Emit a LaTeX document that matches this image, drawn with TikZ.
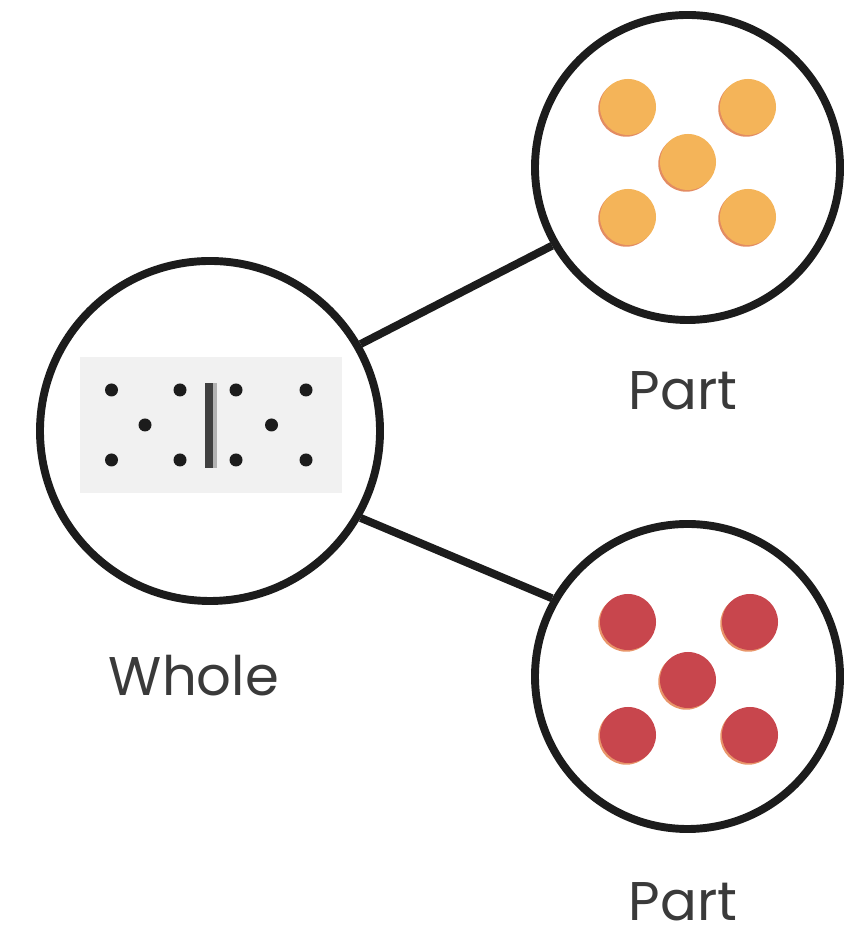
\documentclass[tikz,border=0pt]{standalone}
\usepackage{fontspec}
\setsansfont{Poppins}
\usepackage{xcolor}
\usepackage{tikz}
\definecolor{ringblack}{HTML}{1C1C1C}
\definecolor{labelgray}{HTML}{3A3A3A}
\definecolor{dotorange}{HTML}{F4B459}
\definecolor{shadeorange}{HTML}{E38C62}
\definecolor{dotred}{HTML}{C8464D}
\definecolor{shadered}{HTML}{E8956A}
\definecolor{tilegray}{HTML}{F1F1F1}
\begin{document}
\begin{tikzpicture}[
        ring/.style={circle,draw=ringblack,line width=4.5pt,minimum size=#1},
        link/.style={draw=ringblack,line width=4.5pt},
        lab/.style={font=\sffamily\fontsize{31}{36}\selectfont,text=labelgray,anchor=base,inner sep=0pt},
        pip/.style={fill=ringblack}
    ]
        \useasboundingbox (0,0) rectangle (16.98,18.6);
        % the three circles
        \node[ring=6.8cm] (whole) at (4.2,9.98) {};
        \node[ring=6.1cm] (top) at (13.75,15.25) {};
        \node[ring=6.1cm] (bottom) at (13.75,5.07) {};
        \draw[link] (whole.30) -- (top.210);
        \draw[link] (whole.-30) -- (bottom.150);
        % domino in the whole
        \fill[tilegray] (1.6,8.74) rectangle (6.84,11.46);
        \foreach \x/\y in {2.23/10.8, 3.6/10.8, 2.9/10.1, 2.23/9.4, 3.6/9.4,
                           4.72/10.8, 6.12/10.8, 5.43/10.1, 4.72/9.4, 6.12/9.4}
            \fill[pip] (\x,\y) circle (0.13);
        \fill[black!75] (4.1,9.24) rectangle (4.26,10.94);
        \fill[black!30] (4.26,9.24) rectangle (4.34,10.94);
        % orange part
        \foreach \x/\y in {12.56/16.46, 14.96/16.46, 13.76/15.36, 12.56/14.26, 14.96/14.26} {
            \fill[shadeorange] (\x-0.035,\y-0.035) circle (0.56);
            \fill[dotorange] (\x,\y) circle (0.56);
        }
        % red part
        \foreach \x/\y in {12.56/6.16, 15.0/6.16, 13.76/5.0, 12.56/3.9, 15.0/3.9} {
            \fill[shadered] (\x-0.035,\y-0.035) circle (0.56);
            \fill[dotred] (\x,\y) circle (0.56);
        }
        \node[lab] (wholelabel) at (3.88,4.68) {Whole};
        \node[lab] (toplabel) at (13.66,10.4) {Part};
        \node[lab] (bottomlabel) at (13.66,0.2) {Part};
    \end{tikzpicture}
\end{document}
